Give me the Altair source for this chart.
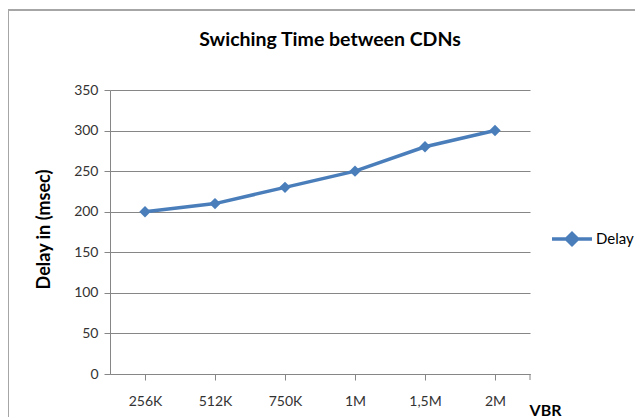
import altair as alt
import pandas as pd

categories = ["256K", "512K", "750K", "1M", "1,5M", "2M"]
delay = [200, 210, 230, 250, 280, 300]
series = ["Delay"] * len(categories)
chart_title = "Swiching Time between CDNs"

df = pd.DataFrame({"VBR": categories, "Delay": delay, "series": series})

BLUE = "#4a7ebb"
FONT = "Lato"
GRID = "#868686"

base = alt.Chart(df)

line = base.mark_line(
    strokeWidth=3.5,
    point=alt.OverlayMarkDef(shape="diamond", size=130, filled=True, color=BLUE),
).encode(
    x=alt.X(
        "VBR:N",
        sort=categories,
        scale=alt.Scale(paddingInner=0, paddingOuter=0),
        axis=alt.Axis(
            title="VBR",
            titleX=435,
            titleY=28,
            titleAlign="center",
            titleBaseline="top",
            titleAnchor="start",
            titleFontSize=16,
            titleFontWeight="bold",
            titleColor="#000",
            labelAngle=0,
            labelPadding=14,
            labelFontSize=14,
            labelColor="#333",
            bandPosition=0,
            tickSize=6,
            tickColor=GRID,
            domainColor=GRID,
            grid=False,
        ),
    ),
    y=alt.Y(
        "Delay:Q",
        scale=alt.Scale(domain=[0, 350], nice=False),
        axis=alt.Axis(
            title="Delay in (msec)",
            values=[0, 50, 100, 150, 200, 250, 300, 350],
            titleX=-66,
            titleY=139,
            titleAngle=270,
            titleAlign="center",
            titleBaseline="middle",
            titleFontSize=18,
            titleFontWeight="bold",
            titleColor="#000",
            labelFontSize=14,
            labelColor="#333",
            labelPadding=6,
            tickSize=6,
            tickColor=GRID,
            domainColor=GRID,
            gridColor=GRID,
            gridWidth=1.2,
        ),
    ),
    color=alt.Color(
        "series:N",
        scale=alt.Scale(range=[BLUE]),
        legend=alt.Legend(
            title=None,
            orient="none",
            legendX=440,
            legendY=127,
            symbolType="M-1,0L1,0M0,-0.28L0.28,0L0,0.28L-0.28,0Z",
            symbolSize=1600,
            symbolStrokeWidth=3.5,
            symbolFillColor=BLUE,
            symbolStrokeColor=BLUE,
            labelFontSize=15,
            labelColor="#000",
            labelOffset=2,
        ),
    ),
)

one = pd.DataFrame({"t": [chart_title]})

title_text = alt.Chart(one).mark_text(
    fontSize=19.5, fontWeight="bold", font=FONT, color="#000", align="center", baseline="middle"
).encode(text="t:N", x=alt.value(220), y=alt.value(-50))

end_tick = alt.Chart(one).mark_rule(color=GRID, strokeWidth=1).encode(
    x=alt.value(420), y=alt.value(284), y2=alt.value(290)
)

frame_left = alt.Chart(one).mark_rule(color="#a6a6a6", strokeWidth=2).encode(
    x=alt.value(-102), x2=alt.value(-102), y=alt.value(-80), y2=alt.value(400)
)
frame_top = alt.Chart(one).mark_rule(color="#a6a6a6", strokeWidth=2).encode(
    x=alt.value(-102), x2=alt.value(600), y=alt.value(-80), y2=alt.value(-80)
)

chart = (
    alt.layer(frame_left, frame_top, title_text, line, end_tick)
    .properties(
        width=420,
        height=284,
        autosize=alt.AutoSizeParams(type="none"),
        padding={"left": 102, "top": 82, "right": 105, "bottom": 43},
        background="white",
    )
    .configure(font=FONT)
    .configure_view(stroke=None)
)

chart.save("out.html", embed_options={"renderer": "svg", "actions": False})
